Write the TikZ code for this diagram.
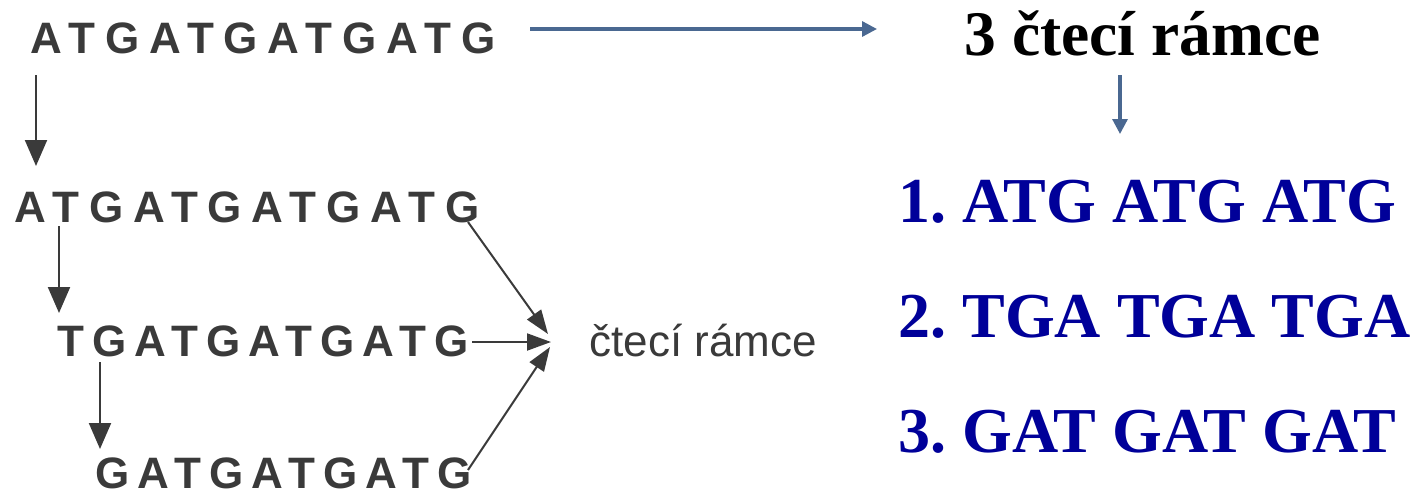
\documentclass[tikz,border=0pt]{standalone}
\usepackage{fontspec}
\setmainfont{Liberation Serif}
\newfontfamily\seqa[LetterSpace=22]{Liberation Sans}
\newfontfamily\seqb[LetterSpace=18.5]{Liberation Sans}
\newfontfamily\labfont{Liberation Sans}
\usetikzlibrary{arrows.meta}
\definecolor{darkblue}{RGB}{0,0,153}
\definecolor{slate}{RGB}{74,104,145}
\definecolor{seqgray}{RGB}{58,58,58}
\frenchspacing
\begin{document}
\begin{tikzpicture}[x=0.5pt,y=-0.5pt,
  seqrow/.style={anchor=base west, inner sep=0, text=seqgray},
  frame/.style={anchor=base west, inner sep=0, text=darkblue, font=\bfseries\fontsize{32}{38}\selectfont},
  slatearrow/.style={draw=slate, line width=1.6pt, -{Triangle[length=7.5pt,width=7.5pt]}},
  grayarrow/.style={draw=seqgray, line width=1pt, -{Triangle[length=13pt,width=11pt]}},
  convarrow/.style={draw=seqgray, line width=1pt, -{Triangle[length=12pt,width=8.5pt]}}]
\useasboundingbox (0,0) rectangle (1416,498);
% left sequences
\node[seqrow, font=\seqa\bfseries\fontsize{22}{26}\selectfont] (r1) at (30,53) {ATGATGATGATG};
\node[seqrow, font=\seqa\bfseries\fontsize{22}{26}\selectfont] (r2) at (14,222) {ATGATGATGATG};
\node[seqrow, font=\seqb\bfseries\fontsize{22}{26}\selectfont] (r3) at (57,356) {TGATGATGATG};
\node[seqrow, font=\seqb\bfseries\fontsize{22}{26}\selectfont] (r4) at (95,488) {GATGATGATG};
\node[anchor=base west, inner sep=0, text=seqgray, font=\labfont\fontsize{22}{26}\selectfont] (lab) at (589,356) {čtecí rámce};
% left arrow end points
\coordinate (v1s) at (36,75);  \coordinate (v1e) at (36,166);
\coordinate (v2s) at (59,226); \coordinate (v2e) at (59,313);
\coordinate (v3s) at (100,362); \coordinate (v3e) at (100,449);
\coordinate (d1s) at (468,222); \coordinate (d1e) at (548,334);
\coordinate (hs) at (472,342);  \coordinate (he) at (551,342);
\coordinate (d3s) at (468,470); \coordinate (d3e) at (550,347);
\draw[grayarrow] (v1s) -- (v1e);
\draw[grayarrow] (v2s) -- (v2e);
\draw[grayarrow] (v3s) -- (v3e);
\draw[convarrow] (d1s) -- (d1e);
\draw[convarrow] (hs) -- (he);
\draw[convarrow] (d3s) -- (d3e);
% right side
\node[anchor=base west, inner sep=0, font=\bfseries\fontsize{31.75}{36}\selectfont] (head) at (964,55) {3 čtecí rámce};
\node[frame] (f1) at (898,222) {1. ATG ATG ATG};
\node[frame] (f2) at (898,337) {2. TGA TGA TGA};
\node[frame] (f3) at (898,452) {3. GAT GAT GAT};
\coordinate (ts) at (530,29); \coordinate (te) at (877,29);
\coordinate (vs) at (1120,75); \coordinate (ve) at (1120,134);
\draw[slatearrow] (ts) -- (te);
\draw[slatearrow] (vs) -- (ve);
\end{tikzpicture}
\end{document}
